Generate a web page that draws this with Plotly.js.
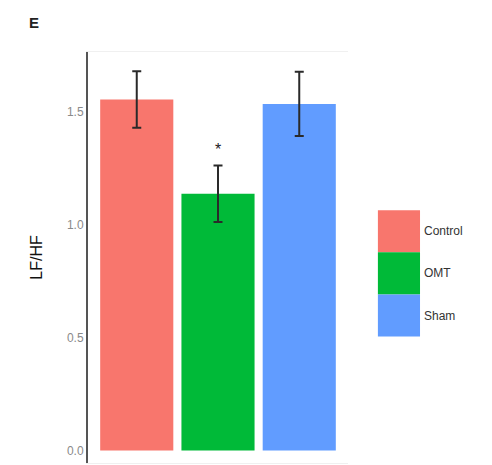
<!DOCTYPE html>
<html><head><meta charset="utf-8">
<script src="https://cdn.plot.ly/plotly-3.0.1.min.js"></script>
<style>body{margin:0;padding:0;background:#fff}#c{width:492px;height:465px}</style>
</head><body><div id="c"></div>
<script>
const groups = ["Control", "OMT", "Sham"];
const means = [1.555, 1.137, 1.535];
const errs = [0.125, 0.125, 0.142];
const colors = ["#F8766D", "#00BA38", "#619CFF"];
const sigLabels = ["", "*", ""];

const trace = {
  type: "bar", x: groups, y: means, width: 0.9,
  marker: {color: colors, line: {width: 0}},
  error_y: {type: "data", array: errs, visible: true, color: "#2a2a2a", thickness: 2, width: 4.5},
  showlegend: false, hoverinfo: "none"
};

const annotations = [
  {text: "<b>E</b>", xref: "paper", yref: "paper", x: -0.235, y: 1.0, yshift: 30, showarrow: false,
   font: {family: "Liberation Sans, Arial", size: 15, color: "#222"}, xanchor: "left", yanchor: "middle"}
];
groups.forEach((g, i) => {
  if (sigLabels[i]) annotations.push({text: sigLabels[i], x: g, y: means[i] + errs[i], yshift: 16,
    showarrow: false, font: {family: "Liberation Sans, Arial", size: 16, color: "#222"}});
});

const shapes = [];
const legX0 = 1.115, legX1 = 1.277, legTop = 0.615, legH = 0.1025;
groups.forEach((g, i) => {
  shapes.push({type: "rect", xref: "paper", yref: "paper", x0: legX0, x1: legX1,
    y0: legTop - (i + 1) * legH, y1: legTop - i * legH, fillcolor: colors[i], line: {width: 0}});
  annotations.push({text: g, xref: "paper", yref: "paper", x: legX1 + 0.008, y: legTop - (i + 0.5) * legH,
    showarrow: false, xanchor: "left", yanchor: "middle",
    font: {family: "Liberation Sans, Arial", size: 12, color: "#333"}});
});

const layout = {
  width: 492, height: 465,
  margin: {l: 88, r: 144, t: 52, b: 2},
  paper_bgcolor: "#fff", plot_bgcolor: "#fff",
  bargap: 0.1,
  xaxis: {range: [-0.6, 2.6], showticklabels: false, ticks: "", showgrid: false, zeroline: false,
    showline: true, linecolor: "#f0f0f0", linewidth: 1, mirror: true},
  yaxis: {range: [-0.055, 1.765], tickvals: [0, 0.5, 1.0, 1.5], ticktext: ["0.0", "0.5", "1.0", "1.5"],
    tickfont: {family: "Liberation Sans, Arial", size: 12, color: "#8a8a8a"}, ticks: "", ticklen: 0,
    showgrid: false, zeroline: false, showline: true, linecolor: "#555", linewidth: 2,
    title: {text: "LF/HF", font: {family: "Liberation Sans, Arial", size: 16, color: "#111"}, standoff: 20}},
  annotations: annotations, shapes: shapes, showlegend: false
};
Plotly.newPlot("c", [trace], layout, {displayModeBar: false, staticPlot: true});
</script></body></html>
